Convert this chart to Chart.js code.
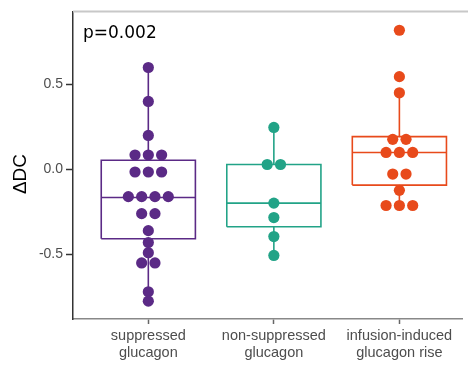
<!DOCTYPE html>
<html>
<head>
<meta charset="utf-8">
<script src="https://cdn.jsdelivr.net/npm/chart.js@4"></script>
<style>
  html, body { margin:0; padding:0; background:#fff; overflow:hidden; }
  #wrap { width:468px; height:367px; position:relative; }
</style>
</head>
<body>
<div id="wrap"><canvas id="chart" width="468" height="367"></canvas></div>
<script>
// ΔDC per glucagon-gruppe: boks + prikker

const categories = [["suppressed", "glucagon"], ["non-suppressed", "glucagon"], ["infusion-induced", "glucagon rise"]];
const yTicks = [-0.5, 0, 0.5];
const yTitle = "ΔDC";
const pLabel = "p=0.002";

const suppressed = [0.60, 0.40, 0.20, 0.085, 0.085, 0.085, -0.015, -0.015, -0.015,
  -0.16, -0.16, -0.16, -0.16, -0.26, -0.26, -0.36, -0.43, -0.49, -0.55, -0.55, -0.72, -0.775];
const nonSuppressed = [0.247, 0.029, 0.029, -0.198, -0.283, -0.395, -0.506];
const infusionRise = [0.819, 0.546, 0.451, 0.177, 0.177, 0.10, 0.10, 0.10,
  -0.027, -0.027, -0.123, -0.212, -0.212, -0.212];

const q1 = [-0.408, -0.337, -0.092];
const median = [-0.165, -0.198, 0.10];
const q3 = [0.054, 0.029, 0.193];
const whiskerLow = [-0.775, -0.506, -0.212];
const whiskerHigh = [0.60, 0.247, 0.451];

const groups = [suppressed, nonSuppressed, infusionRise];
const colors = ["#5b2a86", "#22a387", "#e84a1b"];

const BOX_HALF = 0.375;   // halv boksbredde i kategori-enheter
const DOT_STEP = 0.106;   // avstand mellom prikker side om side

// prikker med like verdier legges side om side, sentrert
function swarm(vals, i) {
  const counts = {}, seen = {};
  vals.forEach(v => counts[v] = (counts[v] || 0) + 1);
  return vals.map(v => {
    const k = seen[v] = (seen[v] || 0) + 1;
    return { x: i + (k - 1 - (counts[v] - 1) / 2) * DOT_STEP, y: v };
  });
}

const line = (data, color) => ({
  data, showLine:true, borderColor:color, borderWidth:1.6, pointRadius:0, fill:false, order:2,
});

const datasets = [];
groups.forEach((vals, i) => {
  const c = colors[i];
  datasets.push(line([{x:i, y:q3[i]}, {x:i, y:whiskerHigh[i]}], c));
  datasets.push(line([{x:i, y:q1[i]}, {x:i, y:whiskerLow[i]}], c));
  datasets.push(line([
    {x:i-BOX_HALF, y:q1[i]}, {x:i+BOX_HALF, y:q1[i]}, {x:i+BOX_HALF, y:q3[i]},
    {x:i-BOX_HALF, y:q3[i]}, {x:i-BOX_HALF, y:q1[i]}], c));
  datasets.push(line([{x:i-BOX_HALF, y:median[i]}, {x:i+BOX_HALF, y:median[i]}], c));
  datasets.push({ data: swarm(vals, i), backgroundColor:c, borderColor:c, borderWidth:0,
    pointRadius:5.6, showLine:false, order:1 });
});

// p-verdi, y-tittel og grå topplinje
const extras = {
  id:"extras",
  afterDraw(c) {
    const { ctx, chartArea:a } = c;
    ctx.save();
    ctx.strokeStyle = "#c8c8c8"; ctx.lineWidth = 2;
    ctx.beginPath(); ctx.moveTo(a.left, a.top); ctx.lineTo(468, a.top); ctx.stroke();
    ctx.fillStyle = "#000";
    ctx.font = "17px 'DejaVu Sans'";
    ctx.textBaseline = "alphabetic";
    ctx.fillText(pLabel, 83, 38);
    ctx.translate(21, 174);
    ctx.rotate(-Math.PI / 2);
    ctx.font = "19px 'Liberation Sans', Arial";
    ctx.textAlign = "center"; ctx.textBaseline = "middle";
    ctx.fillText(yTitle, 0, 0);
    ctx.restore();
  },
};

new Chart(document.getElementById("chart"), {
  type:"scatter",
  data:{ datasets },
  plugins:[extras],
  options:{
    responsive:false, animation:false,
    layout:{ padding:{ top:6, right:1, left:0, bottom:0 } },
    plugins:{ legend:{display:false}, tooltip:{enabled:false} },
    scales:{
      x:{
        type:"linear", min:-0.6, max:2.502,
        afterBuildTicks:(s) => { s.ticks = categories.map((_, i) => ({ value:i })); },
        afterFit:(s) => { s.height = 48; },
        ticks:{ callback:(v) => categories[v], color:"#4d4d4d", padding:3,
          font:{ family:"'Liberation Sans', Arial", size:14.5 }, maxRotation:0, autoSkip:false },
        grid:{ drawOnChartArea:false, tickLength:5, tickColor:"#666", tickWidth:1.5 },
        border:{ color:"#888", width:1.5 },
      },
      y:{
        min:-0.88, max:0.93,
        afterBuildTicks:(s) => { s.ticks = yTicks.map(v => ({ value:v })); },
        afterFit:(s) => { s.width = 73; },
        ticks:{ callback:(v) => v.toFixed(1), color:"#4d4d4d", padding:3,
          font:{ family:"'Liberation Sans', Arial", size:14 } },
        grid:{ drawOnChartArea:false, tickLength:7, tickColor:"#333", tickWidth:1.5 },
        border:{ color:"#333", width:1.5 },
      },
    },
  },
});
</script>
</body>
</html>
